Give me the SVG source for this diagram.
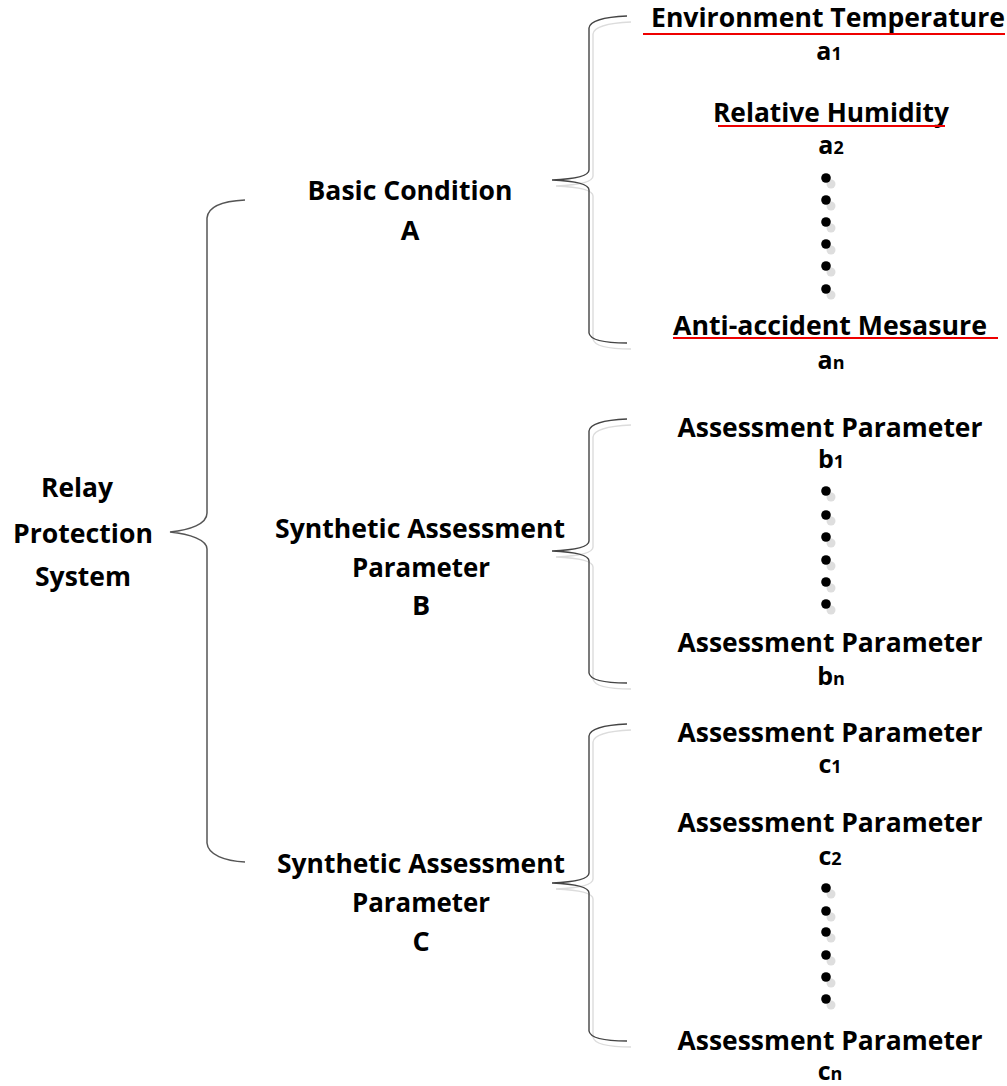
<svg xmlns="http://www.w3.org/2000/svg" width="1007" height="1086" viewBox="0 0 1007 1086">
  <style>
    .lbl { font-family: "Open Sans", "Liberation Sans", sans-serif; font-weight: bold; font-size: 27px; fill: #000; text-anchor: middle; }
    .idx { font-size: 25px; }
    .sub { font-size: 18px; }
    .brace { fill: none; stroke: #444; stroke-width: 1.4; }
    .brace-main { fill: none; stroke: #555; stroke-width: 1.5; }
    .shadow { fill: none; stroke: #dcdcdc; stroke-width: 1.4; }
    .ul { stroke: #e00; stroke-width: 2.2; }
    .dot { fill: #000; }
    .dot-sh { fill: #dedede; }
  </style>
  <defs>
    <path id="braceA" d="M627,16 C605,17 590,20 589,28 L589,170 C589,176 575,179 552,180 C575,181 589,184 589,190 L589,333 C590,340 605,343 627,343"/>
    <path id="braceB" d="M627,419 C605,420 590,423 589,431 L589,541 C589,547 575,550 552,551 C575,552 589,555 589,561 L589,673 C590,680 605,683 627,683"/>
    <path id="braceC" d="M627,724 C605,725 590,728 589,736 L589,873 C589,879 575,882 552,883 C575,884 589,887 589,893 L589,1031 C590,1038 605,1041 627,1041"/>
    <g id="dots">
      <circle class="dot-sh" cx="831" cy="6" r="4.5"/>
      <circle class="dot" cx="826" cy="0" r="4.8"/>
    </g>
  </defs>

  <!-- connectors: curly braces -->
  <g id="connectors">
    <path class="brace-main" d="M245,200 C225,201 208,206 207,218 L207,513 C207,524 190,530 170,532 C190,534 207,540 207,549 L207,843 C208,855 225,861 245,862"/>
    <use href="#braceA" class="shadow" transform="translate(4,6)"/>
    <use href="#braceA" class="brace"/>
    <use href="#braceB" class="shadow" transform="translate(4,6)"/>
    <use href="#braceB" class="brace"/>
    <use href="#braceC" class="shadow" transform="translate(4,6)"/>
    <use href="#braceC" class="brace"/>
  </g>

  <!-- root -->
  <g id="node-root">
    <text class="lbl" x="77" y="497" textLength="72" lengthAdjust="spacingAndGlyphs">Relay</text>
    <text class="lbl" x="83" y="543" textLength="140" lengthAdjust="spacingAndGlyphs">Protection</text>
    <text class="lbl" x="83" y="586" textLength="96" lengthAdjust="spacingAndGlyphs">System</text>
  </g>

  <!-- second level -->
  <g id="node-A">
    <text class="lbl" x="410" y="200" textLength="205" lengthAdjust="spacingAndGlyphs">Basic Condition</text>
    <text class="lbl" x="410" y="240">A</text>
  </g>
  <g id="node-B">
    <text class="lbl" x="420" y="538" textLength="290" lengthAdjust="spacingAndGlyphs">Synthetic Assessment</text>
    <text class="lbl" x="421" y="577" textLength="138" lengthAdjust="spacingAndGlyphs">Parameter</text>
    <text class="lbl" x="421" y="615">B</text>
  </g>
  <g id="node-C">
    <text class="lbl" x="421" y="873" textLength="288" lengthAdjust="spacingAndGlyphs">Synthetic Assessment</text>
    <text class="lbl" x="421" y="912" textLength="138" lengthAdjust="spacingAndGlyphs">Parameter</text>
    <text class="lbl" x="421" y="951">C</text>
  </g>

  <!-- leaves of A -->
  <g id="node-a1">
    <text class="lbl" x="828" y="27" textLength="354" lengthAdjust="spacingAndGlyphs">Environment Temperature</text>
    <line class="ul" x1="643" y1="34" x2="1005" y2="34"/>
    <text class="lbl idx" x="829" y="60">a<tspan class="sub">1</tspan></text>
  </g>
  <g id="node-a2">
    <text class="lbl" x="831" y="122" textLength="236" lengthAdjust="spacingAndGlyphs">Relative Humidity</text>
    <line class="ul" x1="718" y1="126" x2="945" y2="126"/>
    <text class="lbl idx" x="831" y="154">a<tspan class="sub">2</tspan></text>
  </g>
  <g id="dots-a">
    <use href="#dots" y="178"/>
    <use href="#dots" y="200"/>
    <use href="#dots" y="222"/>
    <use href="#dots" y="244"/>
    <use href="#dots" y="266"/>
    <use href="#dots" y="289"/>
  </g>
  <g id="node-an">
    <text class="lbl" x="830" y="335" textLength="314" lengthAdjust="spacingAndGlyphs">Anti-accident Mesasure</text>
    <line class="ul" x1="673" y1="338" x2="998" y2="338"/>
    <text class="lbl idx" x="831" y="369">a<tspan class="sub">n</tspan></text>
  </g>

  <!-- leaves of B -->
  <g id="node-b1">
    <text class="lbl" x="830" y="437" textLength="305" lengthAdjust="spacingAndGlyphs">Assessment Parameter</text>
    <text class="lbl idx" x="831" y="468">b<tspan class="sub">1</tspan></text>
  </g>
  <g id="dots-b">
    <use href="#dots" y="491"/>
    <use href="#dots" y="515"/>
    <use href="#dots" y="537"/>
    <use href="#dots" y="560"/>
    <use href="#dots" y="582"/>
    <use href="#dots" y="604"/>
  </g>
  <g id="node-bn">
    <text class="lbl" x="830" y="652" textLength="305" lengthAdjust="spacingAndGlyphs">Assessment Parameter</text>
    <text class="lbl idx" x="831" y="685">b<tspan class="sub">n</tspan></text>
  </g>

  <!-- leaves of C -->
  <g id="node-c1">
    <text class="lbl" x="830" y="742" textLength="305" lengthAdjust="spacingAndGlyphs">Assessment Parameter</text>
    <text class="lbl idx" x="830" y="773">c<tspan class="sub">1</tspan></text>
  </g>
  <g id="node-c2">
    <text class="lbl" x="830" y="832" textLength="305" lengthAdjust="spacingAndGlyphs">Assessment Parameter</text>
    <text class="lbl idx" x="830" y="865">c<tspan class="sub">2</tspan></text>
  </g>
  <g id="dots-c">
    <use href="#dots" y="888"/>
    <use href="#dots" y="911"/>
    <use href="#dots" y="932"/>
    <use href="#dots" y="955"/>
    <use href="#dots" y="977"/>
    <use href="#dots" y="999"/>
  </g>
  <g id="node-cn">
    <text class="lbl" x="830" y="1050" textLength="305" lengthAdjust="spacingAndGlyphs">Assessment Parameter</text>
    <text class="lbl idx" x="830" y="1080">c<tspan class="sub">n</tspan></text>
  </g>
</svg>
